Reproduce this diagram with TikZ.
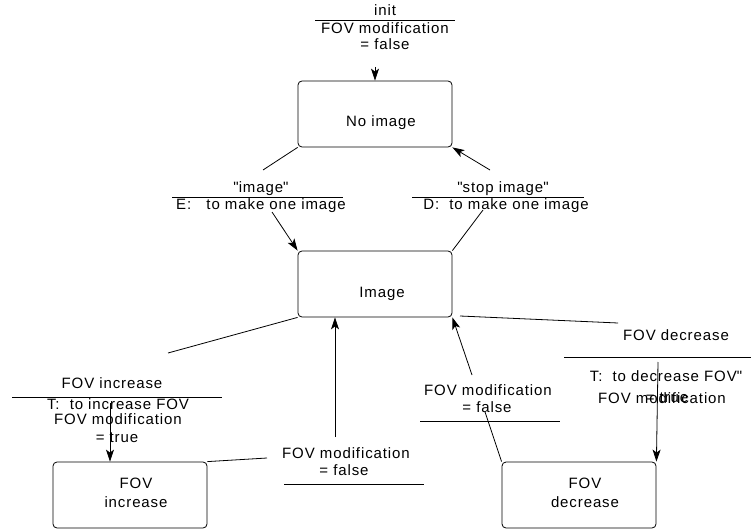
\documentclass[tikz,border=0pt]{standalone}
\usepackage{fontspec}
\setmainfont{Liberation Sans}[LetterSpace=6]
\newfontfamily\plainq{Liberation Sans}[LetterSpace=6]
\usetikzlibrary{arrows.meta}
\newcommand{\sq}{{\plainq"}}
\begin{document}
\begin{tikzpicture}[x=1pt,y=-1pt,
  box/.style={draw, rounded corners=4pt, minimum width=154pt, minimum height=66pt, inner sep=0pt, line width=0.8pt},
  lbl/.style={inner sep=0pt, font=\fontsize{15}{16}\selectfont, text height=11pt, text depth=3pt},
  conn/.style={line width=0.8pt},
  arr/.style={conn, -{Stealth[length=12pt,width=8pt,inset=3pt]}}]
\useasboundingbox (0,0) rectangle (751,529);
% states
\node[box] (noimg) at (375,114) {};
\node[box] (img) at (375,284) {};
\node[box] (finc) at (130,495) {};
\node[box] (fdec) at (579,495) {};
\node[lbl] (noimgT) at (381,123) {No image};
\node[lbl] (imgT) at (382,293) {Image};
\node[lbl, align=center, font=\fontsize{15}{19}\selectfont] (fincT) at (136,503) {FOV\\increase};
\node[lbl, align=center, font=\fontsize{15}{19}\selectfont] (fdecT) at (585,503) {FOV\\decrease};
% init label
\node[lbl] (i1) at (385,12) {init};
\coordinate (i0a) at (315,20); \coordinate (i0b) at (455,20);
\draw[conn] (i0a) -- (i0b);
\node[lbl] (i2) at (385,30) {FOV modification};
\node[lbl] (i3) at (385,46) {= false};
\coordinate (istart) at (375,67);
\draw[arr] (istart) -- (noimg.north);
% No image -> Image
\node[lbl] (a1) at (261,189) {\sq image\sq};
\coordinate (a0a) at (172,197); \coordinate (a0b) at (343,197);
\draw[conn] (a0a) -- (a0b);
\node[lbl] (a2) at (261,206) {E:\ \ \ to make one image};
\coordinate (a3) at (263,170); \coordinate (a4) at (272,212);
\draw[conn] (noimg.south west) -- (a3);
\draw[arr] (a4) -- (img.north west);
% Image -> No image
\node[lbl] (b1) at (503,189) {\sq stop image\sq};
\coordinate (b0a) at (412,197); \coordinate (b0b) at (584,197);
\draw[conn] (b0a) -- (b0b);
\node[lbl] (b2) at (506,206) {D:\ \ to make one image};
\coordinate (b3) at (483,210); \coordinate (b4) at (490,170);
\draw[conn] (img.north east) -- (b3);
\draw[arr] (b4) -- (noimg.south east);
% Image -> FOV increase
\node[lbl] (c1) at (112,384) {FOV increase};
\coordinate (c0a) at (12,397); \coordinate (c0b) at (222,397);
\draw[conn] (c0a) -- (c0b);
\node[lbl] (c2) at (118,405) {T:\ \ to increase FOV};
\node[lbl] (c3) at (118,420) {FOV modification};
\node[lbl] (c4) at (117,438) {= true};
\coordinate (c5) at (168,353); \coordinate (c6) at (110,403);
\draw[conn] (img.south west) -- (c5);
\draw[arr] (c6) -- (c6 |- finc.north);
% FOV increase -> Image
\node[lbl] (d1) at (346,454) {FOV modification};
\node[lbl] (d2) at (344,471) {= false};
\coordinate (d0a) at (284,484); \coordinate (d0b) at (424,484);
\draw[conn] (d0a) -- (d0b);
\coordinate (d3) at (267,458); \coordinate (d4) at (335,437);
\draw[conn] (finc.north east) -- (d3);
\draw[arr] (d4) -- (d4 |- img.south);
% FOV decrease -> Image
\node[lbl] (e1) at (488,391) {FOV modification};
\node[lbl] (e2) at (487,408) {= false};
\coordinate (e0a) at (420,421); \coordinate (e0b) at (560,421);
\draw[conn] (e0a) -- (e0b);
\coordinate (e3) at (485,412); \coordinate (e4) at (472,375);
\draw[conn] (fdec.north west) -- (e3);
\draw[arr] (e4) -- (img.south east);
% Image -> FOV decrease
\node[lbl] (f1) at (676,336) {FOV decrease};
\coordinate (f0a) at (564,357); \coordinate (f0b) at (751,357);
\draw[conn] (f0a) -- (f0b);
\node[lbl] (f2) at (666,377) {T:\ \ to decrease FOV\sq};
\node[lbl] (f3) at (662,399) {FOV modification};
\node[lbl] (f4) at (667,398) {= true};
\coordinate (f5) at (460,316); \coordinate (f6) at (618,323); \coordinate (f7) at (658,362);
\draw[conn] (f5) -- (f6);
\draw[arr] (f7) -- (fdec.north east);
\end{tikzpicture}
\end{document}
